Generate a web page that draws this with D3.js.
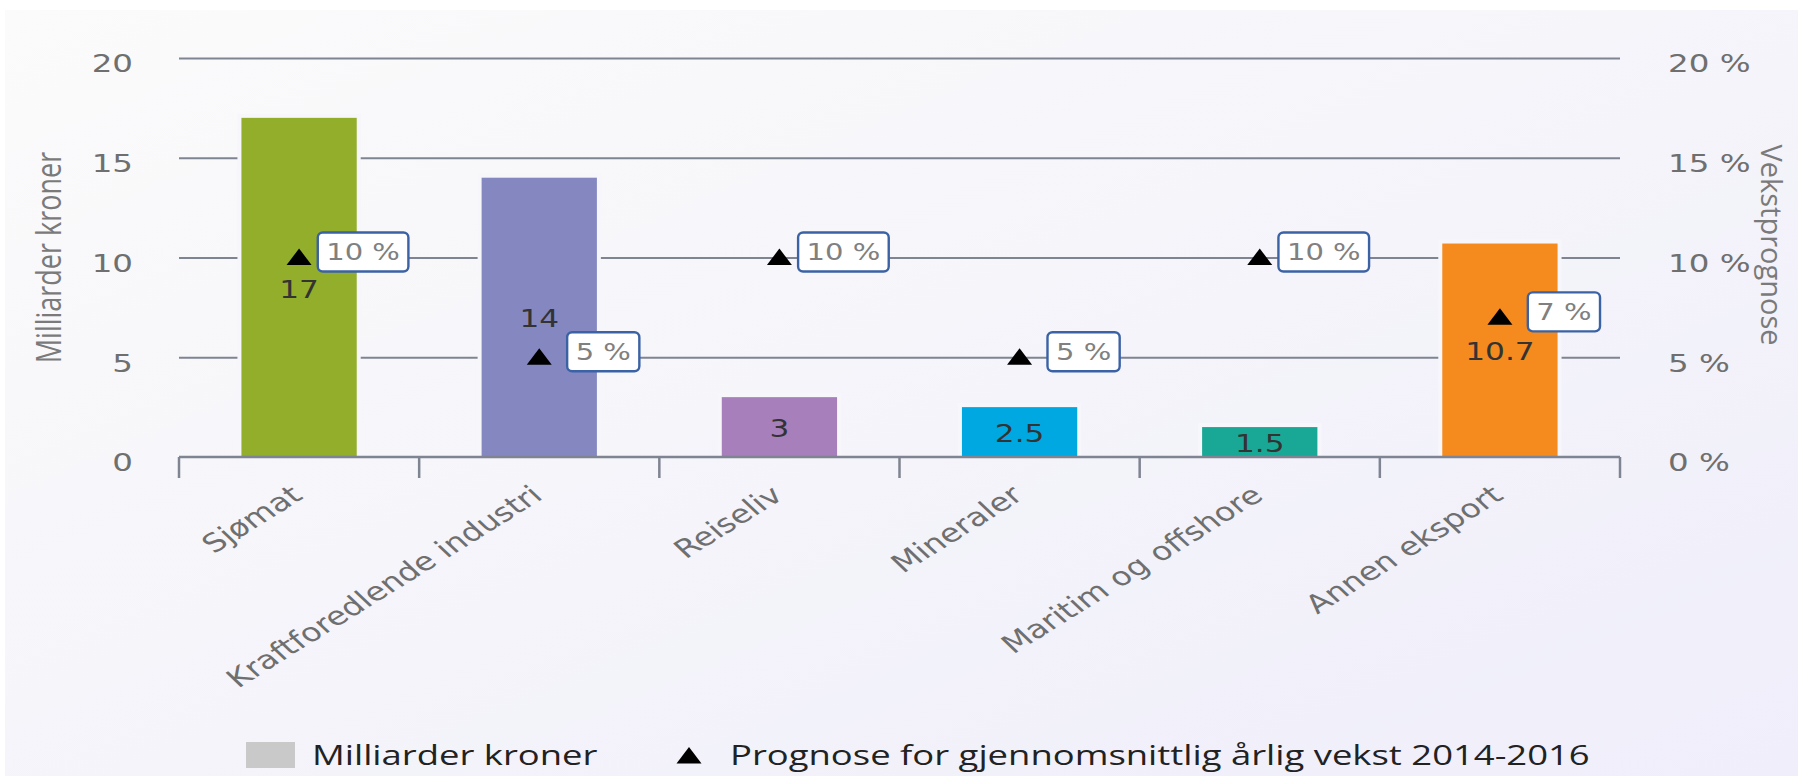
<!DOCTYPE html>
<html>
<head>
<meta charset="utf-8">
<script src="https://cdn.jsdelivr.net/npm/d3@7"></script>
<style>
  html, body { margin: 0; padding: 0; background: #ffffff; }
  svg { display: block; }
</style>
</head>
<body>
<svg id="chart" width="1798" height="776"></svg>
<script>
// ---- data ----
const categories = ["Sjømat", "Kraftforedlende industri", "Reiseliv", "Mineraler", "Maritim og offshore", "Annen eksport"];
const values = [17, 14, 3, 2.5, 1.5, 10.7];
const growth = [10, 5, 10, 5, 10, 7];
const barColors = ["#93ae2a", "#8588c0", "#a67fbb", "#00a8e1", "#1aa896", "#f58a1f"];
const leftTicks = [0, 5, 10, 15, 20];
const rightTicks = [0, 5, 10, 15, 20];
const legendLabels = ["Milliarder kroner", "Prognose for gjennomsnittlig årlig vekst 2014-2016"];

// ---- layout ----
const W = 1798, H = 776;
const SX = 1.3;               // horizontal stretch of the original picture
const plot = { left: 179, right: 1620, top: 58, bottom: 457 };
const svg = d3.select("#chart");

// background
const defs = svg.append("defs");
const grad = defs.append("linearGradient").attr("id", "bg")
  .attr("x1", "0%").attr("y1", "0%").attr("x2", "100%").attr("y2", "100%");
grad.append("stop").attr("offset", "0%").attr("stop-color", "#fbfbfb");
grad.append("stop").attr("offset", "100%").attr("stop-color", "#efeefa");
svg.append("rect").attr("width", W).attr("height", H).attr("fill", "#ffffff");
svg.append("rect").attr("x", 5).attr("y", 10).attr("width", W - 5).attr("height", H - 10).attr("fill", "url(#bg)");

// scales
const x = d3.scaleBand().domain(categories).range([plot.left, plot.right]).padding(0);
const yL = d3.scaleLinear().domain([0, 20]).range([plot.bottom, plot.top]);
const yR = d3.scaleLinear().domain([0, 20]).range([plot.bottom, plot.top]);
const barW = x.bandwidth() * 0.48;
const cx = c => x(c) + x.bandwidth() / 2;

const numFont = "'DejaVu Sans', Verdana, sans-serif";
const titleFont = "'Open Sans', 'Noto Sans', sans-serif";
const gridColor = "#7e8491";

// gridlines + left tick labels via axis
const gLeft = svg.append("g").attr("transform", `translate(${plot.left},0)`)
  .call(d3.axisLeft(yL).tickValues(leftTicks).tickSize(-(plot.right - plot.left)).tickPadding(0).tickFormat(d3.format("d")));
gLeft.select(".domain").remove();
gLeft.selectAll(".tick line").attr("stroke", gridColor).attr("stroke-width", 2.2)
  .attr("display", d => d === 0 ? "none" : null);
gLeft.selectAll(".tick text")
  .attr("x", 0).attr("dy", "0.55em")
  .attr("transform", `translate(-46,0) scale(${SX},1)`)
  .attr("fill", "#6f6f6f").attr("font-family", numFont).attr("font-size", 25);

// right tick labels
const gRight = svg.append("g").attr("transform", `translate(${plot.right},0)`)
  .call(d3.axisRight(yR).tickValues(rightTicks).tickSize(0).tickPadding(0).tickFormat(d => d + " %"));
gRight.select(".domain").remove();
gRight.selectAll(".tick text")
  .attr("x", 0).attr("dy", "0.55em")
  .attr("transform", `translate(48,0) scale(${SX},1)`)
  .attr("fill", "#6f6f6f").attr("font-family", numFont).attr("font-size", 25);

// bars (with a background-coloured halo that breaks the gridlines)
const bars = svg.append("g");
bars.selectAll("rect.halo").data(categories).join("rect").attr("class", "halo")
  .attr("x", c => cx(c) - barW / 2 - 4)
  .attr("width", barW + 8)
  .attr("y", (c, i) => yL(values[i]) - 4)
  .attr("height", (c, i) => yL(0) - yL(values[i]) + 4)
  .attr("fill", "#f6f6fb");
bars.selectAll("rect.bar").data(categories).join("rect").attr("class", "bar")
  .attr("x", c => cx(c) - barW / 2)
  .attr("width", barW)
  .attr("y", (c, i) => yL(values[i]))
  .attr("height", (c, i) => yL(0) - yL(values[i]))
  .attr("fill", (c, i) => barColors[i]);

// bottom axis line and edge ticks
const axisG = svg.append("g");
axisG.append("line").attr("x1", plot.left).attr("x2", plot.right)
  .attr("y1", yL(0)).attr("y2", yL(0)).attr("stroke", gridColor).attr("stroke-width", 2.5);
const edges = categories.map(c => x(c)).concat([plot.right]);
axisG.selectAll("line.edge").data(edges).join("line").attr("class", "edge")
  .attr("x1", d => d).attr("x2", d => d)
  .attr("y1", yL(0)).attr("y2", yL(0) + 21)
  .attr("stroke", gridColor).attr("stroke-width", 2.5);

// category labels
const gBottom = svg.append("g").attr("transform", `translate(0,${plot.bottom})`)
  .call(d3.axisBottom(x).tickSize(0).tickPadding(0));
gBottom.select(".domain").remove();
gBottom.selectAll(".tick text")
  .attr("x", 0).attr("y", 0).attr("dy", 0)
  .attr("text-anchor", "end")
  .attr("transform", `translate(5,41) scale(${SX},1) rotate(-39)`)
  .attr("fill", "#6f6f6f").attr("font-family", numFont).attr("font-size", 25.5);

// value labels inside bars
svg.append("g").selectAll("text").data(categories).join("text")
  .attr("transform", (c, i) => `translate(${cx(c)},${(yL(values[i]) + yL(0)) / 2}) scale(${SX},1)`)
  .attr("text-anchor", "middle").attr("dy", "0.42em")
  .attr("fill", "#333333").attr("font-family", numFont).attr("font-size", 24)
  .text((c, i) => String(values[i]));

// growth triangles
const tri = (px, py) => `M${px},${py - 9}L${px + 12.5},${py + 7.5}L${px - 12.5},${py + 7.5}Z`;
svg.append("g").selectAll("path").data(categories).join("path")
  .attr("d", (c, i) => tri(cx(c), yR(growth[i])))
  .attr("fill", "#000000");

// growth label boxes
const boxes = svg.append("g").selectAll("g").data(categories).join("g")
  .attr("transform", (c, i) => `translate(${cx(c) + 64},${yR(growth[i]) - 5.5})`);
boxes.append("text")
  .attr("transform", `scale(${SX * 0.97},1)`)
  .attr("text-anchor", "middle").attr("dy", "0.36em")
  .attr("fill", "#808080").attr("font-family", numFont).attr("font-size", 23)
  .text((c, i) => growth[i] + " %");
boxes.each(function () {
  const g = d3.select(this);
  const t = g.select("text").node();
  const w = t.getBBox().width * SX * 0.97 + 17;
  g.insert("rect", "text")
    .attr("x", -w / 2).attr("y", -19.5).attr("width", w).attr("height", 39)
    .attr("rx", 5).attr("fill", "#ffffff")
    .attr("stroke", "#3b62a5").attr("stroke-width", 2.4);
});

// axis titles
svg.append("text")
  .attr("transform", `translate(61,${(plot.top + plot.bottom) / 2}) scale(${SX},1) rotate(-90)`)
  .attr("text-anchor", "middle")
  .attr("fill", "#7a7a7a").attr("font-family", titleFont).attr("font-size", 27)
  .text("Milliarder kroner");
svg.append("text")
  .attr("transform", `translate(1761,245) rotate(90)`)
  .attr("text-anchor", "middle")
  .attr("fill", "#7a7a7a").attr("font-family", titleFont).attr("font-size", 29)
  .text("Vekstprognose");

// legend
const LSX = 1.35;
const lg = svg.append("g");
lg.append("rect").attr("x", 246).attr("y", 742).attr("width", 49).attr("height", 26).attr("fill", "#c9c9c9");
lg.append("text").attr("transform", `translate(312,765) scale(${LSX},1)`)
  .attr("fill", "#222222").attr("font-family", titleFont).attr("font-size", 27)
  .text(legendLabels[0]);
lg.append("path").attr("d", tri(689, 756)).attr("fill", "#000000");
lg.append("text").attr("transform", `translate(730,765) scale(${LSX},1)`)
  .attr("fill", "#222222").attr("font-family", titleFont).attr("font-size", 27)
  .text(legendLabels[1]);
</script>
</body>
</html>
